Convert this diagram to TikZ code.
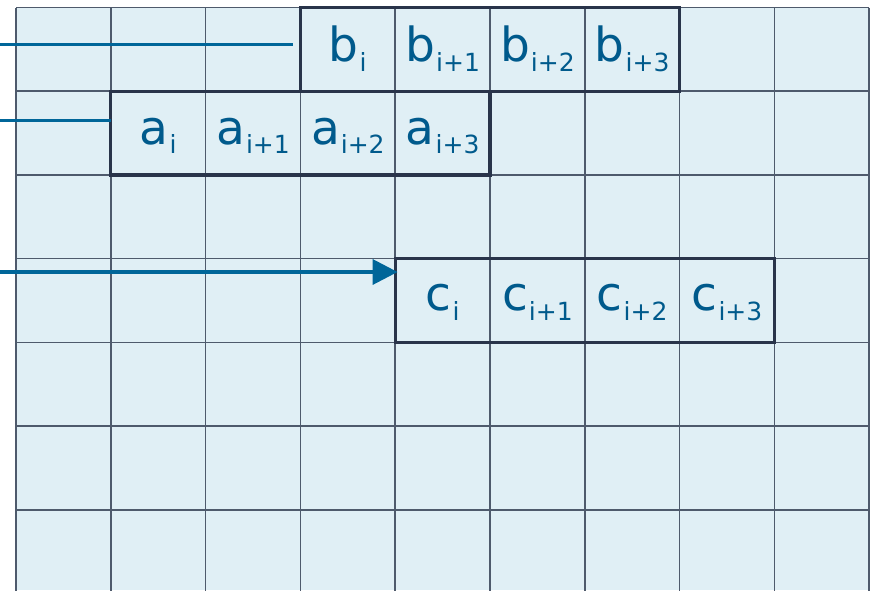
\documentclass[tikz,border=0pt]{standalone}
\usepackage{fontspec}
\setmainfont{DejaVu Sans}
\usetikzlibrary{arrows.meta}

\definecolor{cellbg}{HTML}{E0EFF5}
\definecolor{gridline}{HTML}{4E5A6C}
\definecolor{boxline}{HTML}{29344A}
\definecolor{flowblue}{HTML}{006699}
\definecolor{labelblue}{HTML}{005A8C}

% one element label: big letter with a lowered index
\newcommand{\elem}[2]{#1\kern1pt\raisebox{-9.5pt}{\fontsize{25}{28}\selectfont #2}}

\tikzset{
  vecbox/.style={draw=boxline, line width=3.2pt, inner sep=0pt,
    minimum width=379.2pt, minimum height=83.7pt},
  elemlabel/.style={anchor=base, inner sep=0pt, text=labelblue,
    font=\fontsize{47}{56}\selectfont},
  flow/.style={draw=flowblue, line width=3.5pt},
}

\begin{document}
\begin{tikzpicture}[x=1pt, y=-1pt]
  \useasboundingbox (0,0) rectangle (873,590);

  % sheet of cells
  \fill[cellbg] (16,7.5) rectangle (869,590);
  \begin{scope}
    \clip (15,6.5) rectangle (870,590);
    \foreach \k in {0,...,9}
      \draw[gridline, line width=1.6pt] ({16+94.8*\k},7.5) -- ({16+94.8*\k},594);
    \foreach \j in {0,...,7}
      \draw[gridline, line width=1.6pt] (16,{7.5+83.7*\j}) -- (869,{7.5+83.7*\j});
  \end{scope}

  % the three vectors of four elements
  \node[vecbox] (bbox) at ({16+94.8*5},{7.5+83.7*0.5}) {};
  \node[vecbox] (abox) at ({16+94.8*3},{7.5+83.7*1.5}) {};
  \node[vecbox] (cbox) at ({16+94.8*6},{7.5+83.7*3.5}) {};

  % element labels, baseline 54 below the top of each row
  \foreach \n/\s [count=\i from 0] in {0/i,1/i+1,2/i+2,3/i+3} {
    \node[elemlabel] (b\n) at ({16+94.8*(3.5+\i)},{7.5+54}) {\elem{b}{\s}};
    \node[elemlabel] (a\n) at ({16+94.8*(1.5+\i)},{7.5+83.7+53}) {\elem{a}{\s}};
    \node[elemlabel] (c\n) at ({16+94.8*(4.5+\i)},{7.5+83.7*3+52}) {\elem{c}{\s}};
  }

  % input and output streams
  \coordinate (bin) at (0,44.3);
  \coordinate (ain) at (0,120.3);
  \coordinate (cout) at (0,272);
  \draw[flow] (bin) -- ([xshift=-6pt]bin -| bbox.west);
  \draw[flow] (ain) -- ([xshift=1.5pt]ain -| abox.west);
  \draw[flow, -{Triangle[length=25pt, width=25pt]}]
    (cout) -- ([xshift=4pt]cout -| cbox.west);
\end{tikzpicture}
\end{document}
